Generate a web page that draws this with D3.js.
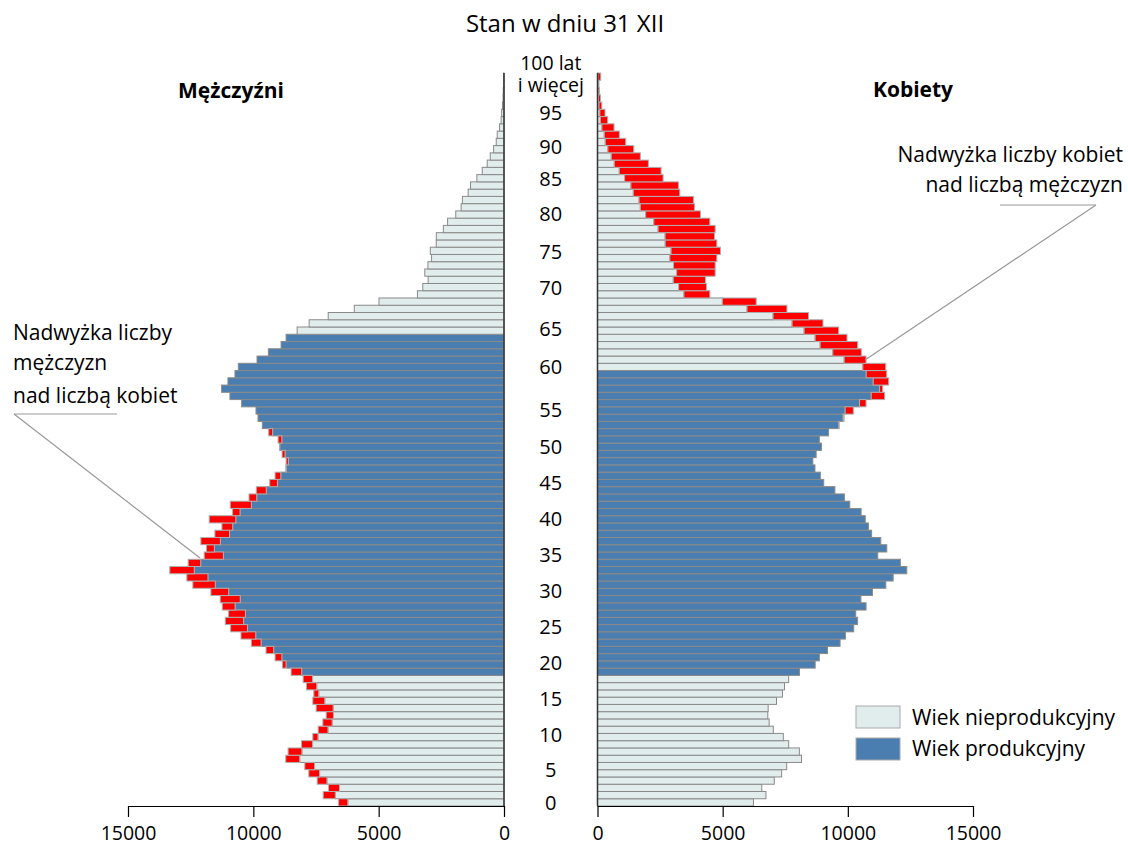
<!DOCTYPE html>
<html>
<head>
<meta charset="utf-8">
<script src="https://cdn.jsdelivr.net/npm/d3@7"></script>
<style>
  html, body { margin: 0; padding: 0; background: #fff; }
  svg { display: block; font-family: "Open Sans", Lato, sans-serif; }
</style>
</head>
<body>
<svg id="chart" width="1128" height="847"></svg>
<script>
// ---- DATA ----
const ages = d3.range(0, 101);
const males = [
  6600, 7213, 7000, 7453, 7787, 7947, 8707, 8613, 8080, 7627,
  7413, 7227, 7093, 7493, 7627, 7587, 7880, 8013, 8493, 8840,
  9133, 9493, 10080, 10493, 10907, 11120, 10987, 11240, 11320, 11693,
  12413, 12653, 13333, 12600, 11960, 11867, 12093, 11533, 11253, 11760,
  10827, 10920, 10173, 9880, 9347, 9133, 8700, 8693, 8853, 8950,
  9013, 9387, 9640, 9813, 9893, 10467, 10933, 11267, 11013, 10733,
  10600, 9853, 9400, 8893, 8693, 8253, 7773, 7013, 5973, 4987,
  3453, 3240, 3027, 3160, 3035, 2890, 2940, 2705, 2700, 2420,
  2250, 1925, 1710, 1660, 1430, 1335, 1083, 870, 670, 550,
  415, 310, 270, 177, 115, 95, 60, 40, 30, 20,
  20
];
const females = [
  6230, 6730, 6563, 7063, 7357, 7557, 8150, 8063, 7637, 7423,
  7023, 6857, 6803, 6817, 7150, 7390, 7470, 7637, 8070, 8695,
  8862, 9188, 9690, 9903, 10235, 10388, 10315, 10728, 10522, 10983,
  11517, 11810, 12355, 12098, 11195, 11556, 11315, 10950, 10823, 10697,
  10530, 10077, 9863, 9483, 9037, 8903, 8687, 8602, 8735, 8945,
  8862, 9230, 9650, 9850, 10220, 10727, 11473, 11393, 11633, 11553,
  11513, 10727, 10540, 10393, 9967, 9633, 9007, 8433, 7567, 6340,
  4487, 4353, 4313, 4700, 4700, 4767, 4913, 4767, 4673, 4700,
  4487, 4113, 3873, 3833, 3287, 3233, 2620, 2540, 2033, 1713,
  1447, 1127, 873, 660, 407, 300, 170, 120, 80, 60,
  130
];
const prodMale = [18, 64];
const prodFemale = [18, 59];
const tickValues = [0, 5000, 10000, 15000];
const ageLabels = [0, 5, 10, 15, 20, 25, 30, 35, 40, 45, 50, 55, 60, 65, 70, 75, 80, 85, 90, 95];
const topLabel = ["100 lat", "i więcej"];
const title = "Stan w dniu 31 XII";
const sexLabels = ["Mężczyźni", "Kobiety"];
const legendLabels = ["Wiek nieprodukcyjny", "Wiek produkcyjny"];
const noteMale = ["Nadwyżka liczby", "mężczyzn", "nad liczbą kobiet"];
const noteFemale = ["Nadwyżka liczby kobiet", "nad liczbą mężczyzn"];

// ---- STYLE ----
const C_NON = "#e1ecec", C_PROD = "#4a7eb0", C_EXC = "#ff0000", C_STROKE = "#8a8a8a";
// small vertical nudges (px) of the age labels, as placed in the original layout
const labelNudge = [0, 4, 5, 5, 6, 6, 6, 6, 7, 7, 7, 7, 0, -2, -7, -6, -8, -7, -2, 0];

const svg = d3.select("#chart");
const y = d3.scaleBand().domain(ages).range([806, 73]).paddingInner(0);
const xL = d3.scaleLinear().domain([0, 15000]).range([504, 128]);
const xR = d3.scaleLinear().domain([0, 15000]).range([597.5, 973]);

const rows = ages.map((a, i) => ({
  age: a, m: males[i], f: females[i], base: Math.min(males[i], females[i])
}));
const isProd = (a, r) => a >= r[0] && a <= r[1];

const g = svg.append("g");
g.selectAll("rect.ml").data(rows).join("rect")
  .attr("x", d => xL(d.base)).attr("y", d => y(d.age))
  .attr("width", d => xL(0) - xL(d.base)).attr("height", y.bandwidth())
  .attr("fill", d => isProd(d.age, prodMale) ? C_PROD : C_NON)
  .attr("stroke", C_STROKE).attr("stroke-width", 1);
g.selectAll("rect.fr").data(rows).join("rect")
  .attr("x", xR(0)).attr("y", d => y(d.age))
  .attr("width", d => xR(d.base) - xR(0)).attr("height", y.bandwidth())
  .attr("fill", d => isProd(d.age, prodFemale) ? C_PROD : C_NON)
  .attr("stroke", C_STROKE).attr("stroke-width", 1);
g.selectAll("rect.mx").data(rows.filter(d => d.m > d.f)).join("rect")
  .attr("x", d => xL(d.m)).attr("y", d => y(d.age))
  .attr("width", d => xL(d.f) - xL(d.m)).attr("height", y.bandwidth())
  .attr("fill", C_EXC).attr("stroke", "#b0b0b0").attr("stroke-width", 1);
g.selectAll("rect.fx").data(rows.filter(d => d.f > d.m)).join("rect")
  .attr("x", d => xR(d.m)).attr("y", d => y(d.age))
  .attr("width", d => xR(d.f) - xR(d.m)).attr("height", y.bandwidth())
  .attr("fill", C_EXC).attr("stroke", "#b0b0b0").attr("stroke-width", 1);

[xL(0), xR(0)].forEach(x => {
  svg.append("line").attr("x1", x).attr("x2", x).attr("y1", 73).attr("y2", 806)
    .attr("stroke", "#333").attr("stroke-width", 1.5);
});

function styleAxis(sel) {
  sel.select(".domain").attr("stroke", "#000").attr("stroke-width", 1.2);
  sel.selectAll(".tick line").attr("stroke", "#000").attr("stroke-width", 1.2);
  sel.selectAll(".tick text").attr("font-size", 19.5).attr("fill", "#000")
    .attr("font-family", "'Open Sans', sans-serif").attr("y", 14).attr("dy", "1.05em");
}
svg.append("g").attr("transform", "translate(0,806)")
  .call(d3.axisBottom(xL).tickValues(tickValues).tickFormat(d3.format("d")).tickSize(11).tickSizeOuter(0))
  .call(styleAxis);
svg.append("g").attr("transform", "translate(0,806)")
  .call(d3.axisBottom(xR).tickValues(tickValues).tickFormat(d3.format("d")).tickSize(11).tickSizeOuter(0))
  .call(styleAxis);

const cx = (xL(0) + xR(0)) / 2;
svg.append("g").selectAll("text").data(ageLabels).join("text")
  .attr("x", cx).attr("y", (d, i) => y(d) + y.bandwidth() / 2 + labelNudge[i])
  .attr("dy", "0.36em").attr("text-anchor", "middle")
  .attr("font-size", 20).text(d => d);
svg.append("text").attr("x", cx).attr("y", 70).attr("text-anchor", "middle")
  .attr("font-size", 19.5).text(topLabel[0]);
svg.append("text").attr("x", cx).attr("y", 92).attr("text-anchor", "middle")
  .attr("font-size", 19.5).text(topLabel[1]);

svg.append("text").attr("x", 565).attr("y", 32).attr("text-anchor", "middle")
  .attr("font-size", 24).text(title);

svg.append("text").attr("x", 231).attr("y", 98).attr("text-anchor", "middle")
  .attr("font-size", 21).attr("font-weight", "bold").text(sexLabels[0]);
svg.append("text").attr("x", 913).attr("y", 97).attr("text-anchor", "middle")
  .attr("font-size", 21).attr("font-weight", "bold").text(sexLabels[1]);

const noteM = [340, 370, 403];
noteMale.forEach((t, i) => svg.append("text").attr("x", 13).attr("y", noteM[i])
  .attr("font-size", 21).text(t));
svg.append("line").attr("x1", 14).attr("x2", 117).attr("y1", 414).attr("y2", 414)
  .attr("stroke", "#999").attr("stroke-width", 1.2);
svg.append("line").attr("x1", 14).attr("x2", 200).attr("y1", 414).attr("y2", 558)
  .attr("stroke", "#999").attr("stroke-width", 1.2);

const noteF = [162, 192];
noteFemale.forEach((t, i) => svg.append("text").attr("x", 1123).attr("y", noteF[i])
  .attr("text-anchor", "end").attr("font-size", 21).text(t));
svg.append("line").attr("x1", 1000).attr("x2", 1096).attr("y1", 205).attr("y2", 205)
  .attr("stroke", "#999").attr("stroke-width", 1.2);
svg.append("line").attr("x1", 1096).attr("x2", 865).attr("y1", 205).attr("y2", 360)
  .attr("stroke", "#999").attr("stroke-width", 1.2);

const lg = svg.append("g");
[C_NON, C_PROD].forEach((c, i) => {
  lg.append("rect").attr("x", 856).attr("y", 706 + i * 32).attr("width", 44).attr("height", 22)
    .attr("fill", c).attr("stroke", "#aaa").attr("stroke-width", 1);
  lg.append("text").attr("x", 912).attr("y", 725 + i * 31).attr("font-size", 21).text(legendLabels[i]);
});
</script>
</body>
</html>
